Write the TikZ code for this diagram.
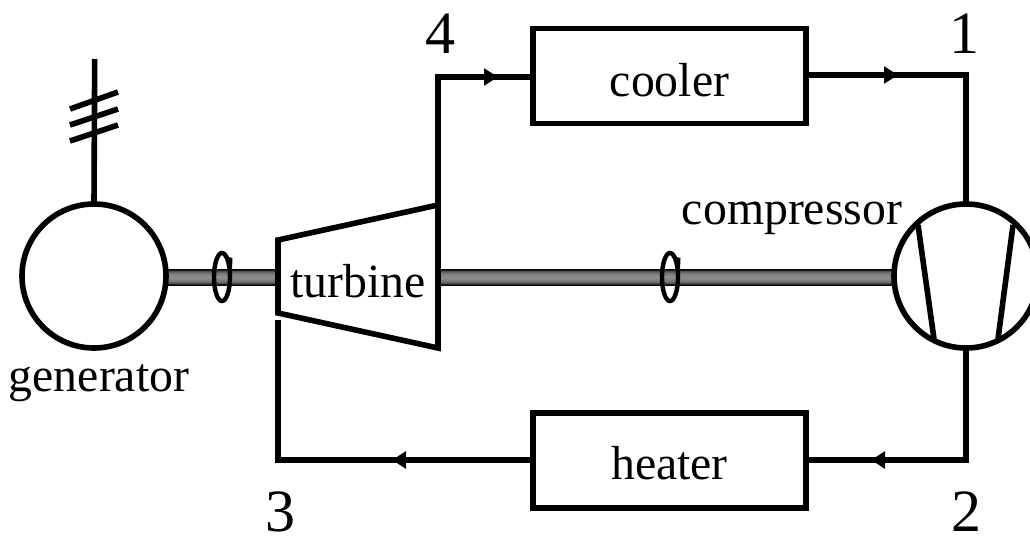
\documentclass[tikz,border=0pt]{standalone}
\usepackage{fontspec}
\setmainfont{Liberation Serif}
\usetikzlibrary{arrows.meta}
\pgfdeclareverticalshading{shaftshade}{100bp}{
  color(0bp)=(black); color(26bp)=(black); color(31bp)=(black!70);
  color(38bp)=(black!52); color(50bp)=(black!45); color(62bp)=(black!52);
  color(69bp)=(black!70); color(74bp)=(black); color(100bp)=(black)}
\tikzset{
  x=0.75pt,y=-0.75pt,
  wire/.style={line width=4.2pt,line cap=butt,line join=miter},
  flowtip/.style={wire,-{Triangle[length=10.5pt,width=12.5pt]}},
  unit/.style={circle,draw,line width=4.2pt,minimum size=108pt,inner sep=0pt,outer sep=0pt},
  boxunit/.style={rectangle,draw,line width=4.2pt,minimum width=204.75pt,minimum height=71.25pt,inner sep=0pt,outer sep=0pt},
  lbl/.style={inner sep=0pt,outer sep=0pt,font=\fontsize{35.8pt}{36pt}\selectfont},
  num/.style={inner sep=0pt,outer sep=0pt,font=\fontsize{45pt}{46pt}\selectfont},
  shaft/.style={shading=shaftshade,draw=none},
  ringline/.style={draw,line width=3.3pt,fill=none},
}
\begin{document}
\begin{tikzpicture}
\useasboundingbox (0,0) rectangle (1030,536);
\clip (0,0) rectangle (1030,536);
% shafts
\path[shaft] (168,269) rectangle (278,285);
\path[shaft] (438,269) rectangle (893,285);
% units
\node[unit] (gen) at (94,276) {};
\node[unit] (comp) at (966,276) {};
\node[boxunit] (cooler) at (669.5,76) {};
\node[boxunit] (heater) at (669.5,460.5) {};
\node[lbl] (coolerlabel) at (669.5,80) {cooler};
\node[lbl] (heaterlabel) at (669.5,463) {heater};
% turbine
\coordinate (t1) at (278,240);
\coordinate (t2) at (438,205);
\coordinate (t3) at (438,348);
\coordinate (t4) at (278,313);
\draw[wire,line join=miter] (t1) -- (t2) -- (t3) -- (t4) -- cycle;
\node[lbl] (turbine) at (358,281) {turbine};
% compressor blades
\coordinate (b1) at (918,225);
\coordinate (b2) at (934,339);
\coordinate (b3) at (1013,225);
\coordinate (b4) at (998,339);
\draw[wire] (b1) -- (b2);
\draw[wire] (b3) -- (b4);
% generator lead
\coordinate (leadtop) at (94.7,59);
\draw[wire] (gen.north) -- (leadtop);
\coordinate (s1a) at (70,109); \coordinate (s1b) at (118,92);
\coordinate (s2a) at (70,125); \coordinate (s2b) at (118,109);
\coordinate (s3a) at (70,141); \coordinate (s3b) at (118,125);
\draw[wire] (s1a) -- (s1b);
\draw[wire] (s2a) -- (s2b);
\draw[wire] (s3a) -- (s3b);
% flow lines
\coordinate (c4) at (438,77);
\coordinate (tip4) at (498,77);
\coordinate (c1) at (966,75);
\coordinate (tip1) at (898,75);
\coordinate (c2) at (966,460);
\coordinate (tip2) at (871,460);
\coordinate (c3) at (278,460);
\coordinate (tip3) at (392,460);
\coordinate (t5) at (278,320);
\draw[wire] (t2) -- (c4) -- (cooler.west |- c4);
\draw[flowtip] (c4) -- (tip4);
\draw[wire] (cooler.east |- c1) -- (c1) -- (comp.north);
\draw[flowtip] (cooler.east |- c1) -- (tip1);
\draw[wire] (comp.south) -- (c2) -- (heater.east |- c2);
\draw[flowtip] (c2) -- (tip2);
\draw[wire] (heater.west |- c3) -- (c3) -- (t5);
\draw[flowtip] (heater.west |- c3) -- (tip3);
% rotation rings
\coordinate (r1) at (222,277);
\coordinate (r2) at (670,277);
\draw[ringline] (r1) ellipse [x radius=8,y radius=24];
\draw[ringline] (r2) ellipse [x radius=8,y radius=24];
\fill ([shift={(2,-21)}]r1) -- ([shift={(10.5,-19)}]r1) -- ([shift={(10,-8)}]r1) -- cycle;
\fill ([shift={(2,-21)}]r2) -- ([shift={(10.5,-19)}]r2) -- ([shift={(10,-8)}]r2) -- cycle;
% labels
\node[lbl] (genlabel) at (99,383) {generator};
\node[lbl] (complabel) at (792,218) {compressor};
\node[num] (n4) at (440,34) {4};
\node[num] (n1) at (964,34) {1};
\node[num] (n3) at (280,512) {3};
\node[num] (n2) at (966,512) {2};
\end{tikzpicture}
\end{document}
